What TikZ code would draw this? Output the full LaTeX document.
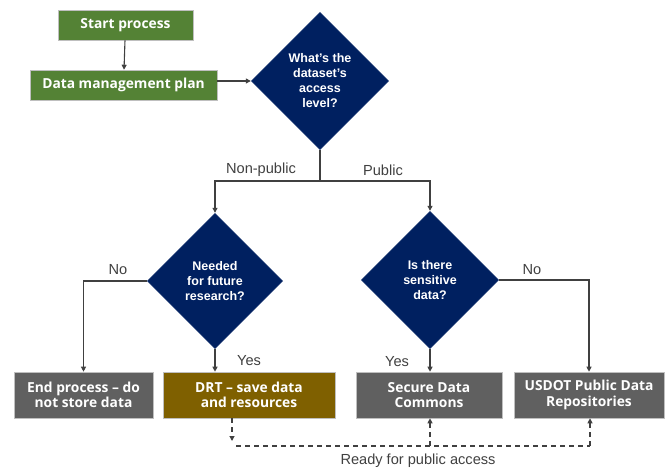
\documentclass[tikz,border=0pt]{standalone}
\usepackage{fontspec}
\setmainfont{Liberation Sans}
\newfontfamily\boxfont{Open Sans}
\usetikzlibrary{shapes.geometric,arrows.meta}
\definecolor{startgreen}{HTML}{548235}
\definecolor{decnavy}{HTML}{002060}
\definecolor{drtbrown}{HTML}{7F6000}
\definecolor{endgray}{HTML}{606060}
\definecolor{linegray}{HTML}{404040}
\begin{document}
\begin{tikzpicture}[x=1pt,y=-1pt,
  procbox/.style={draw=white!75!black,line width=0.6pt,text=white,align=center,inner sep=0pt,
    font=\boxfont\bfseries\fontsize{13.8}{15.5}\selectfont},
  decision/.style={diamond,aspect=1,fill=decnavy,draw=decnavy!60!white,line width=0.4pt,text=white,
    align=center,inner sep=0pt,minimum width=138pt,minimum height=138pt,
    font=\bfseries\fontsize{12.5}{15}\selectfont},
  conn/.style={draw=linegray,line width=1.1pt,-{Triangle[width=5pt,length=5pt]}},
  plainconn/.style={draw=linegray,line width=1.1pt},
  dashconn/.style={draw=linegray,line width=1.1pt,dash pattern=on 5pt off 4pt},
  lbl/.style={text=linegray,font=\fontsize{14.6}{16}\selectfont}]
\useasboundingbox (0,0) rectangle (666,470);

% process boxes
\node[procbox,fill=startgreen,minimum width=135pt,minimum height=30pt] (start) at (125.5,25) {Start process};
\node[procbox,fill=startgreen,minimum width=187pt,minimum height=30pt] (dmp) at (123.5,85) {Data management plan};
\node[procbox,fill=endgray,minimum width=139pt,minimum height=46pt] (endp) at (83.5,395) {End process – do\\not store data};
\node[procbox,fill=drtbrown,minimum width=172pt,minimum height=46pt] (drt) at (249,395) {DRT – save data\\and resources};
\node[procbox,fill=endgray,minimum width=146pt,minimum height=46pt] (sdc) at (429,395) {Secure Data\\Commons};
\node[procbox,fill=endgray,minimum width=150pt,minimum height=46pt] (usdot) at (589,395) {USDOT Public Data\\Repositories};

% decisions
\node[decision] (q1) at (320,81) {What’s the\\dataset’s\\access\\level?};
\node[decision,minimum width=136pt,minimum height=136pt] (q2) at (215,281) {Needed\\for future\\research?};
\node[decision] (q3) at (430,280) {Is there\\sensitive\\data?};

% flow
\draw[conn] (start) -- (dmp);
\draw[conn] (dmp.east |- q1.west) -- (q1.west);
\coordinate (br) at (320,181);
\draw[plainconn] (q1.south) -- (br);
\draw[conn] (br) -| (q2.north);
\draw[conn] (br) -| (q3.north);
\draw[conn] (q2.west) -| (endp.north);
\draw[conn] (q2.south) -- (q2.south |- drt.north);
\draw[conn] (q3.south) -- (q3.south |- sdc.north);
\draw[conn] (q3.east) -| (usdot.north);

% ready for public access
\coordinate (dtip) at (232,441);
\coordinate (dl) at (236,446);
\coordinate (dm) at (430,446);
\coordinate (dr) at (590,446);
\draw[dashconn,-{Triangle[width=5pt,length=5pt]}] (drt.south -| dtip) -- (dtip);
\draw[dashconn] (dl) -- (dr);
\draw[dashconn,-{Triangle[width=5pt,length=5pt]}] (dm) -- (dm |- sdc.south);
\draw[dashconn,-{Triangle[width=5pt,length=5pt]}] (dr) -- (dr |- usdot.south);

% labels
\node[lbl] (lnp) at (261,170) {Non-public};
\node[lbl] (lp) at (383,170) {Public};
\node[lbl] (lno1) at (118,270) {No};
\node[lbl] (lno2) at (532,270) {No};
\node[lbl] (lyes1) at (249,361) {Yes};
\node[lbl] (lyes2) at (397,362) {Yes};
\node[lbl] (lready) at (418,461) {Ready for public access};
\end{tikzpicture}
\end{document}
